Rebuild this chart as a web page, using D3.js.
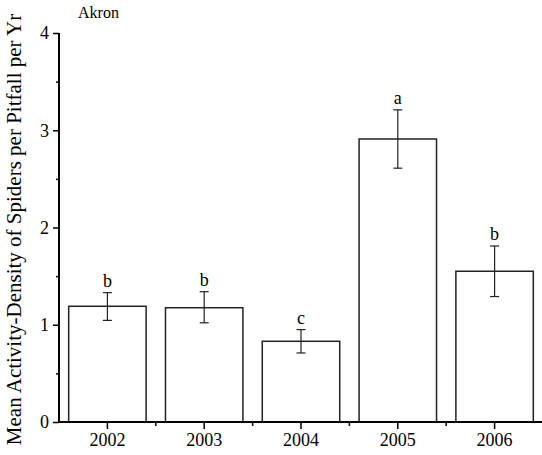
<!DOCTYPE html>
<html>
<head>
<meta charset="utf-8">
<script src="https://d3js.org/d3.v7.min.js"></script>
<style>
  body { margin: 0; background: #fff; }
  svg text { font-family: "Liberation Serif", "Times New Roman", serif; fill: #000; }
</style>
</head>
<body>
<div id="chart"></div>
<script>
// data
var years = ["2002", "2003", "2004", "2005", "2006"];
var means = [1.19, 1.175, 0.83, 2.91, 1.55];
var errHigh = [1.33, 1.34, 0.95, 3.21, 1.81];
var errLow = [1.045, 1.02, 0.71, 2.61, 1.29];
var letters = ["b", "b", "c", "a", "b"];
var yTicks = [0, 1, 2, 3, 4];

var serif = "'Liberation Serif', 'Times New Roman', serif";
var width = 542, height = 455;
var margin = {top: 33, right: 0, bottom: 33, left: 59};

var svg = d3.select("#chart").append("svg")
    .attr("width", width)
    .attr("height", height);

var x = d3.scaleBand()
    .domain(years)
    .range([margin.left, width + 1])
    .paddingInner(0.2)
    .paddingOuter(0.1);

var y = d3.scaleLinear()
    .domain([0, 4])
    .range([height - margin.bottom, margin.top]);

var rows = years.map(function(d, i) {
    return {year: d, mean: means[i], hi: errHigh[i], lo: errLow[i], letter: letters[i]};
});

// bars
svg.selectAll(".bar").data(rows)
    .enter().append("rect")
    .attr("class", "bar")
    .attr("x", function(d) { return x(d.year); })
    .attr("y", function(d) { return y(d.mean); })
    .attr("width", x.bandwidth())
    .attr("height", function(d) { return y(0) - y(d.mean); })
    .attr("fill", "#fff")
    .attr("stroke", "#222")
    .attr("stroke-width", 1.5);

// error bars
var cx = function(d) { return x(d.year) + x.bandwidth() / 2; };
var err = svg.selectAll(".err").data(rows).enter().append("g").attr("class", "err")
    .attr("stroke", "#222").attr("stroke-width", 1.2);
err.append("line")
    .attr("x1", cx).attr("x2", cx)
    .attr("y1", function(d) { return y(d.hi); })
    .attr("y2", function(d) { return y(d.lo); });
err.append("line")
    .attr("x1", function(d) { return cx(d) - 4.5; }).attr("x2", function(d) { return cx(d) + 4.5; })
    .attr("y1", function(d) { return y(d.hi); }).attr("y2", function(d) { return y(d.hi); });
err.append("line")
    .attr("x1", function(d) { return cx(d) - 4.5; }).attr("x2", function(d) { return cx(d) + 4.5; })
    .attr("y1", function(d) { return y(d.lo); }).attr("y2", function(d) { return y(d.lo); });

// significance letters
svg.selectAll(".letter").data(rows)
    .enter().append("text")
    .attr("class", "letter")
    .attr("x", cx)
    .attr("y", function(d) { return y(d.hi) - 6; })
    .attr("text-anchor", "middle")
    .attr("font-family", serif)
    .style("font-size", "18px")
    .text(function(d) { return d.letter; });

// y axis
var yAxis = svg.append("g")
    .attr("transform", "translate(" + margin.left + ",0)")
    .call(d3.axisLeft(y).tickValues(yTicks).tickFormat(d3.format("d")).tickSize(6).tickPadding(4));
svg.append("g")
    .attr("transform", "translate(" + margin.left + ",0)")
    .call(d3.axisLeft(y).tickValues([0.5, 1.5, 2.5, 3.5]).tickSize(3).tickFormat(""))
    .select(".domain").remove();
yAxis.select(".domain").attr("d", "M0," + y(4) + "V" + y(0)).attr("stroke-width", 2);

// x axis
var xAxis = svg.append("g")
    .attr("transform", "translate(0," + y(0) + ")")
    .call(d3.axisBottom(x).tickSize(7).tickPadding(4));
xAxis.select(".domain").attr("d", "M" + margin.left + ",0H" + width).attr("stroke-width", 2);
var bounds = years.slice(1).map(function(d) { return x(d) - x.step() * x.paddingInner() / 2; });
svg.append("g").selectAll("line").data(bounds).enter().append("line")
    .attr("x1", function(d) { return d; }).attr("x2", function(d) { return d; })
    .attr("y1", y(0)).attr("y2", y(0) + 4)
    .attr("stroke", "#000").attr("stroke-width", 1.5);

svg.selectAll(".tick line").attr("stroke-width", 1.5);
svg.selectAll(".tick text")
    .attr("font-family", serif)
    .style("font-family", serif)
    .style("font-size", "18px");

// labels
svg.append("text")
    .attr("transform", "translate(21," + ((y(0) + y(4)) / 2 + 2) + ") rotate(-90)")
    .attr("text-anchor", "middle")
    .attr("font-family", serif)
    .style("font-size", "21px")
    .text("Mean Activity-Density of Spiders per Pitfall per Yr");

svg.append("text")
    .attr("x", 78).attr("y", 18)
    .attr("font-family", serif)
    .style("font-size", "16px")
    .text("Akron");
</script>
</body>
</html>
